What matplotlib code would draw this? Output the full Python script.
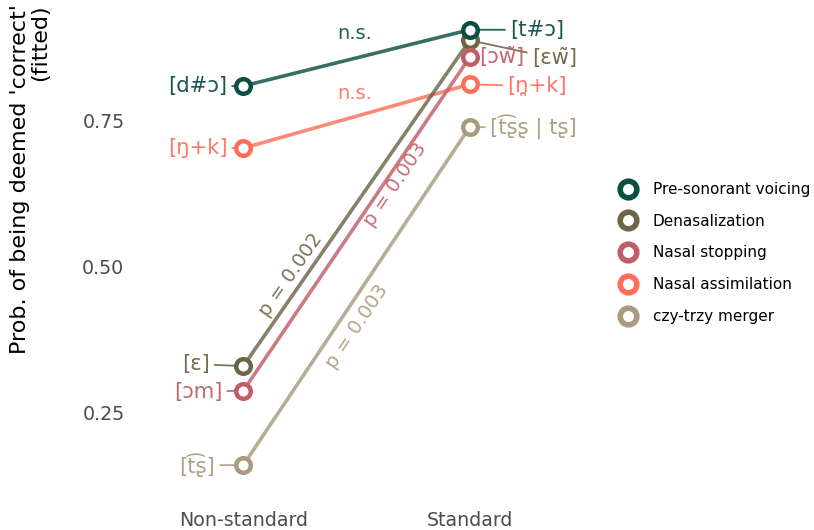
import numpy as np
import matplotlib
matplotlib.use("Agg")
import matplotlib.pyplot as plt
from matplotlib.lines import Line2D

# Fitted probabilities per process: (non-standard, standard)
categories = ["Non-standard", "Standard"]
series = ["Pre-sonorant voicing", "Denasalization", "Nasal stopping",
          "Nasal assimilation", "czy-trzy merger"]
nonstandard = [0.808, 0.330, 0.288, 0.702, 0.161]
standard = [0.904, 0.886, 0.857, 0.811, 0.738]
label_ns = ["[d#ɔ]", "[ɛ]", "[ɔm]", "[ŋ+k]", "[t\u0361ʂ]"]
label_st = ["[t#ɔ]", "[ɛw\u0303]", "[ɔw\u0303]", "[n\u032a+k]", "[t\u0361ʂʂ | tʂ]"]
pvalues = ["n.s.", "p = 0.002", "p = 0.003", "n.s.", "p = 0.003"]
yticks = [0.25, 0.50, 0.75]

colors = ["#0b4e44", "#6c6647", "#c05e68", "#ff6f5c", "#aa9a7e"]

# label placement (offset points) and p-value placement (fraction along line, offset points)
off_ns = [(-11.5, 0), (-24, 1.5), (-15, -0.7), (-11.5, 0), (-20, 0)]
off_st = [(28.8, 0), (44.6, -13), (7, 0), (27, -1.5), (14.4, -0.5)]
p_pos = [(0.493, 0, 18), (0.28, -11.5, 0), (0.617, 8.6, 0), (0.493, 0, 17), (0.41, 15, 0)]
rotate_p = [False, True, True, False, True]

fig = plt.figure(figsize=(8.14, 5.30), dpi=100)
ax = fig.add_axes([130 / 814, 1 - 487 / 530, 453 / 814, 479 / 530])
ax.set_xlim(0.5, 2.5)
ax.set_ylim(0.75 - (487 - 120) / 586, 0.75 + (120 - 8) / 586)

xs = np.array([1, 2])
draw_order = [4, 3, 1, 2, 0]
for k, i in enumerate(draw_order):
    ax.plot(xs, [nonstandard[i], standard[i]], color=colors[i], lw=2.6,
            alpha=0.82, solid_capstyle="butt", zorder=2 + k * 0.1)
for k, i in enumerate(draw_order):
    ax.plot(xs, [nonstandard[i], standard[i]], ls="none", marker="o", ms=10.5,
            mfc="white", mec=colors[i], mew=3.2, zorder=5 + k * 0.1)

# point labels with short leader lines
for i in range(len(series)):
    for x, y, lab, off, ha in [(1, nonstandard[i], label_ns[i], off_ns[i], "right"),
                               (2, standard[i], label_st[i], off_st[i], "left")]:
        ax.annotate(lab, xy=(x, y), xytext=off, textcoords="offset points",
                    ha=ha, va="center", fontsize=15.2, color=colors[i],
                    alpha=0.95, zorder=4,
                    arrowprops=dict(arrowstyle="-", color=colors[i], lw=1.3,
                                    shrinkA=1.5, shrinkB=0, alpha=0.9))

# p-value labels along the lines
for i in range(len(series)):
    t, dx, dy = p_pos[i]
    x0, y0 = 1 + t, nonstandard[i] + t * (standard[i] - nonstandard[i])
    rot = 0
    if rotate_p[i]:
        p1 = ax.transData.transform((1, nonstandard[i]))
        p2 = ax.transData.transform((2, standard[i]))
        rot = np.degrees(np.arctan2(p2[1] - p1[1], p2[0] - p1[0]))
    ax.annotate(pvalues[i], xy=(x0, y0), xytext=(dx, dy), textcoords="offset points",
                ha="center", va="center", rotation=rot, rotation_mode="anchor",
                fontsize=14, color=colors[i], alpha=0.9, zorder=4)

ax.set_xticks(xs)
ax.set_xticklabels(categories)
ax.set_yticks(yticks)
ax.set_yticklabels([f"{v:.2f}" for v in yticks])
ax.tick_params(axis="both", length=0, labelsize=13.7, labelcolor="#4d4d4d")
ax.tick_params(axis="x", pad=17)
ax.tick_params(axis="y", pad=4)
for s in ax.spines.values():
    s.set_visible(False)

fig.text(30 / 814, 1 - 4 / 530, "Prob. of being deemed 'correct'\n(fitted)",
         rotation=90, ha="center", va="top", multialignment="right",
         fontsize=16, color="black", linespacing=1.0)

handles = [Line2D([], [], ls="none", marker="o", ms=12, mfc="white",
                  mec=c, mew=4) for c in colors]
fig.legend(handles, series, loc="center left",
           bbox_to_anchor=(619 / 814, 1 - 253 / 530), frameon=False,
           fontsize=11, labelspacing=1.1, handlelength=1.2, handletextpad=1.0,
           borderpad=0, borderaxespad=0)

fig.savefig("out.png", dpi=100, facecolor="white")
